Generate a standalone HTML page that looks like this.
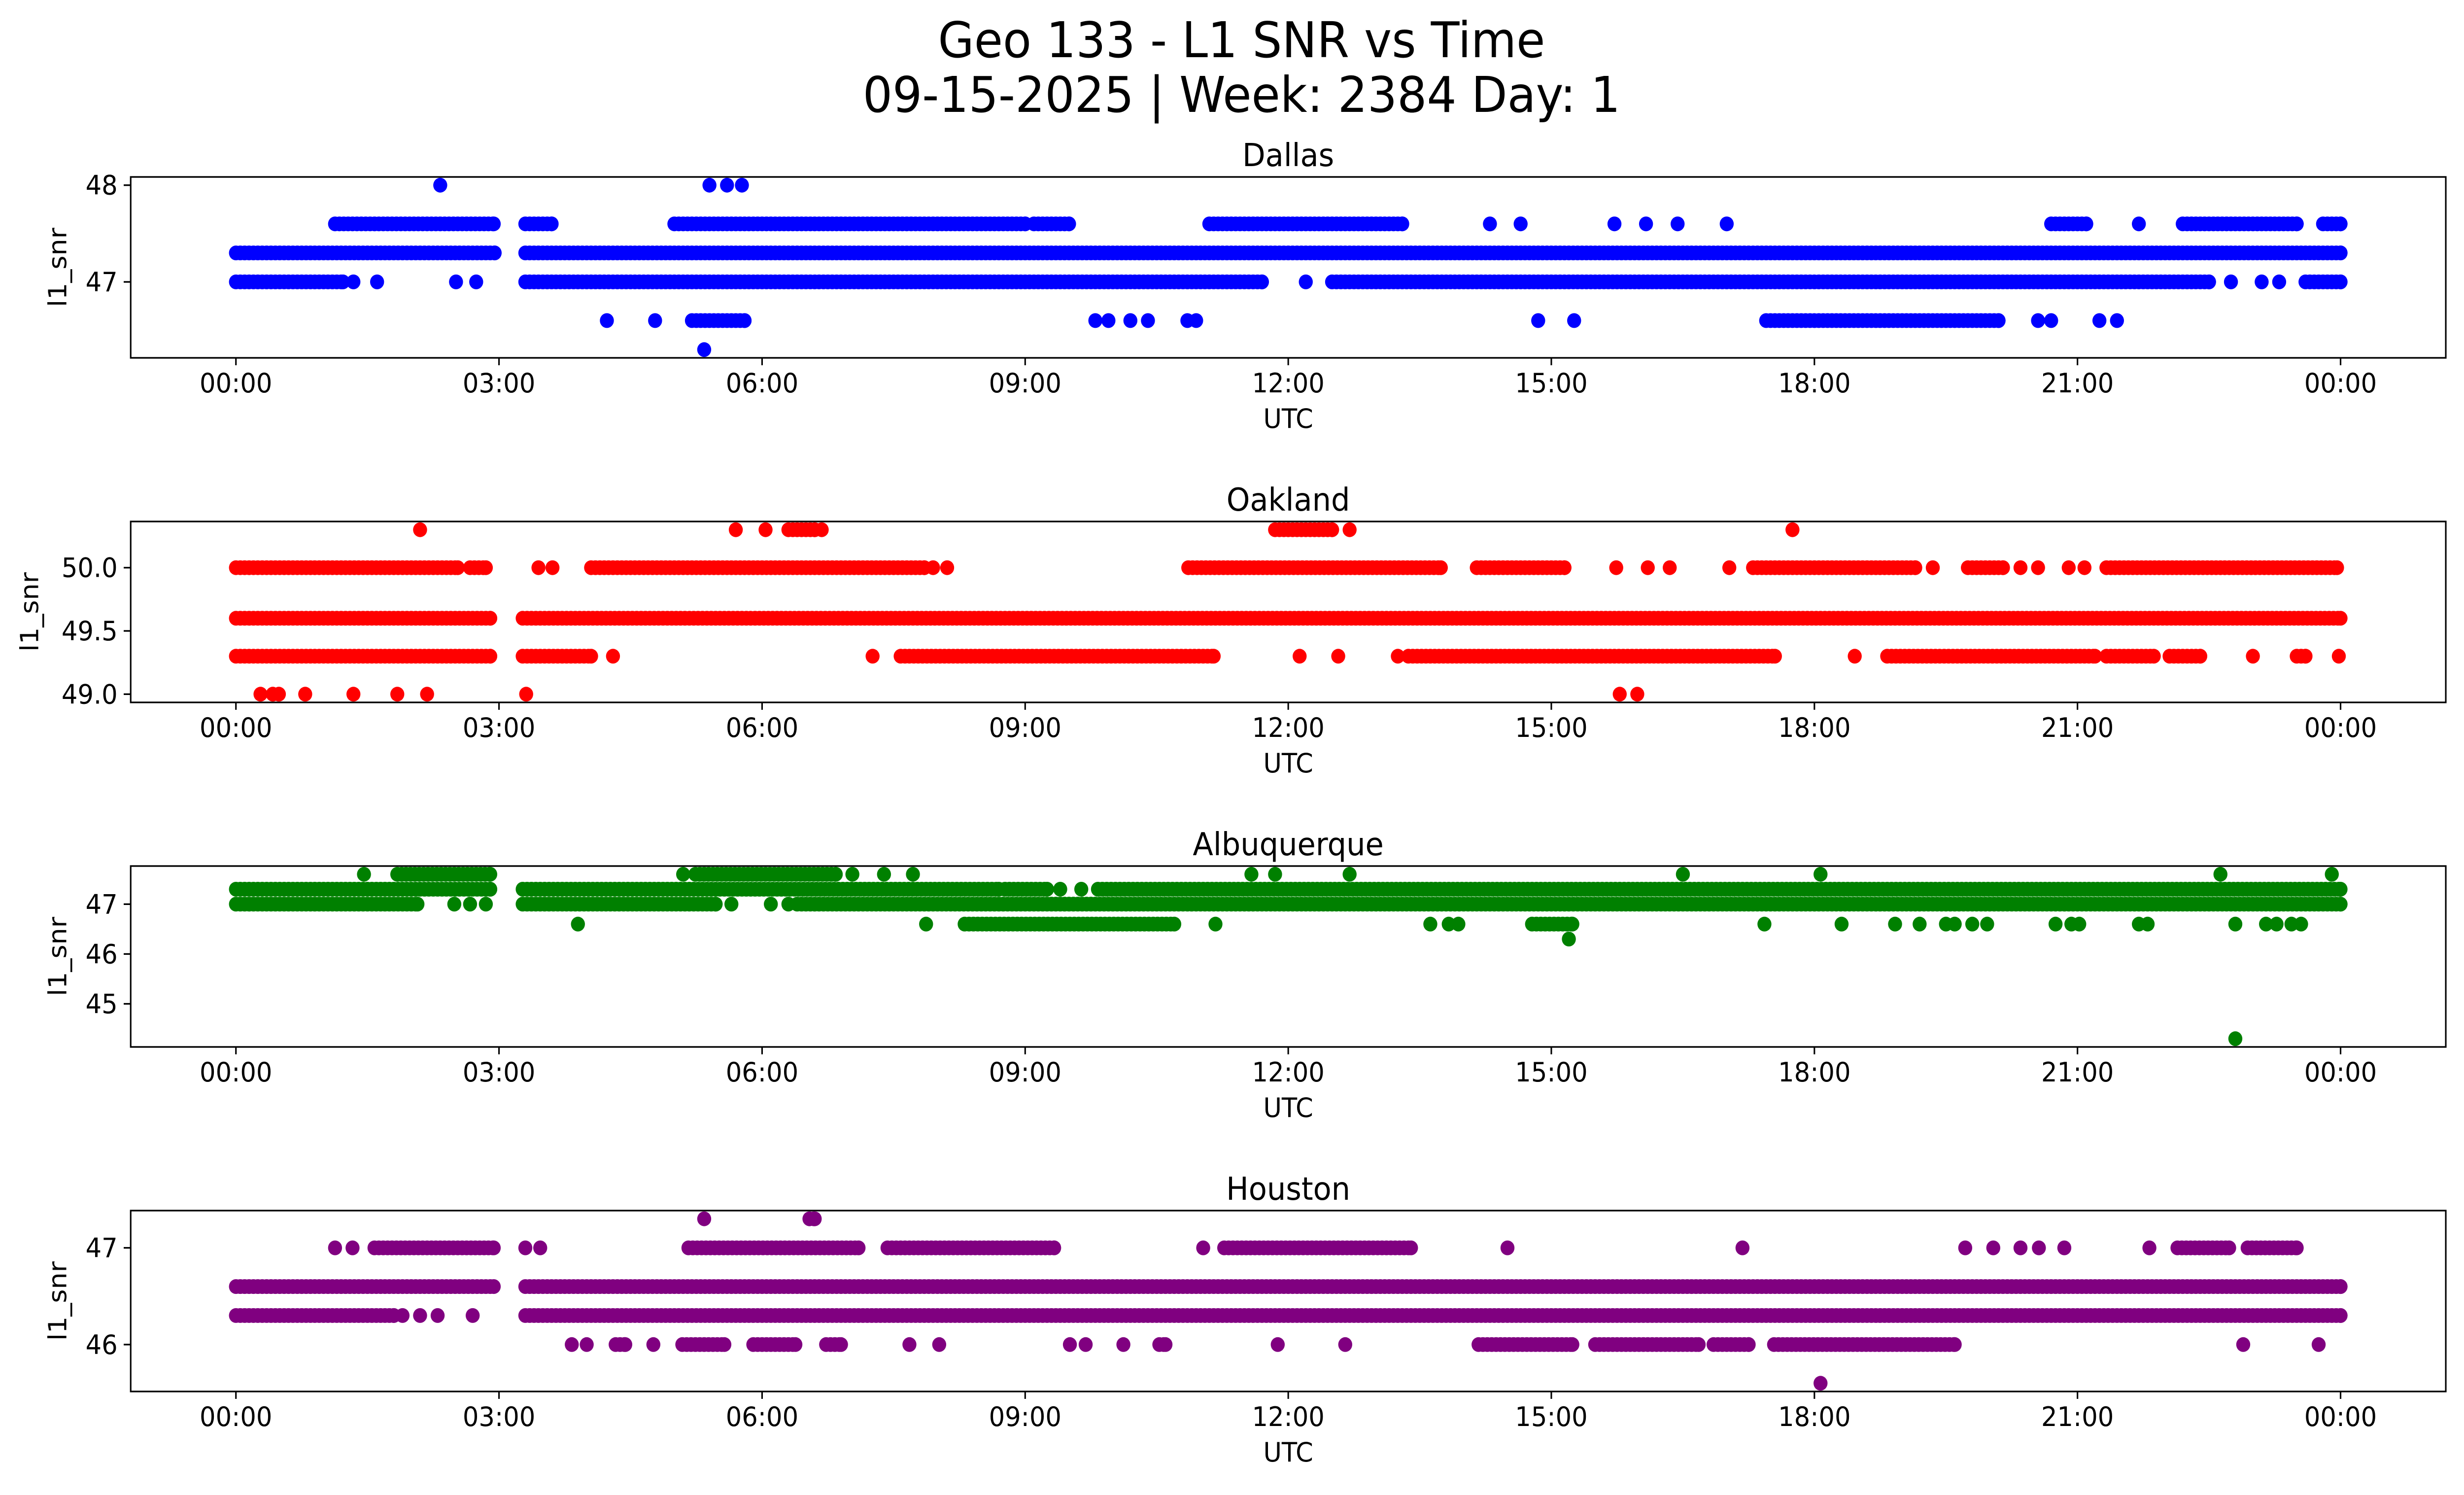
<!DOCTYPE html>
<html><head><meta charset="utf-8"><style>
html,body{margin:0;padding:0;background:#fff;width:100%;height:100%;overflow:hidden;}
svg{display:block;font-family:"DejaVu Sans","Liberation Sans",sans-serif;width:100vw;height:100vh;}
</style></head><body>
<svg id="fig" viewBox="0 0 5279 3033" preserveAspectRatio="none" xmlns="http://www.w3.org/2000/svg">
<rect width="5279" height="3033" fill="#fff"/>
<text x="2660" y="116" font-size="100" text-anchor="middle">Geo 133 - L1 SNR vs Time</text>
<text x="2660" y="227" font-size="100" text-anchor="middle">09-15-2025 | Week: 2384 Day: 1</text>
</svg>
<script>
const xTickHours = [0,3,6,9,12,15,18,21,24];
const xTickLabels = ["00:00","03:00","06:00","09:00","12:00","15:00","18:00","21:00","00:00"];

const dallasRuns = [[47.3,0,2.95],[47.3,3.3,24],[47.0,0,1.22],[47.0,3.3,11.7],[47.0,12.5,22.5],[47.0,23.6,24],
 [47.6,1.13,2.94],[47.6,3.3,3.6],[47.6,5.0,9.0],[47.6,9.1,9.5],[47.6,11.1,13.3],[47.6,20.7,21.1],[47.6,22.2,23.5],[47.6,23.8,24],
 [46.6,5.2,5.8],[46.6,17.45,20.1]];
const dallasPoints = [[47,1.34],[47,1.61],[47,2.51],[47,2.74],[47,12.2],[47,22.75],[47,23.1],[47,23.3],
 [47.6,14.3],[47.6,14.65],[47.6,15.72],[47.6,16.08],[47.6,16.44],[47.6,17.0],[47.6,21.7],
 [48,2.33],[48,5.4],[48,5.6],[48,5.77],
 [46.6,4.23],[46.6,4.78],[46.6,9.8],[46.6,9.95],[46.6,10.2],[46.6,10.4],[46.6,10.85],[46.6,10.95],[46.6,14.85],[46.6,15.26],[46.6,20.55],[46.6,20.7],[46.6,21.25],[46.6,21.45],
 [46.3,5.34]];
const dallasTicks = [47,48];

const oaklandRuns = [[50.0,0,2.53],[50.0,2.67,2.85],[50.0,4.05,7.85],[50.0,10.86,13.74],[50.0,14.15,15.15],[50.0,17.3,19.15],[50.0,19.75,20.15],[50.0,21.33,23.96],
 [49.6,0,2.9],[49.6,3.27,24],
 [49.3,0,2.9],[49.3,3.27,4.05],[49.3,7.58,11.15],[49.3,13.37,17.55],[49.3,18.83,21.2],[49.3,21.33,21.87],[49.3,22.05,22.4],[49.3,23.5,23.6],
 [50.3,6.3,6.6],[50.3,11.85,12.5]];
const oaklandPoints = [[50.0,3.45],[50.0,3.61],[50.0,7.95],[50.0,8.11],[50.0,15.74],[50.0,16.1],[50.0,16.35],[50.0,17.03],[50.0,19.35],[50.0,20.35],[50.0,20.55],[50.0,20.9],[50.0,21.08],
 [49.3,4.3],[49.3,7.26],[49.3,12.13],[49.3,12.57],[49.3,13.25],[49.3,18.46],[49.3,23.0],[49.3,23.98],
 [50.3,2.1],[50.3,5.7],[50.3,6.04],[50.3,6.68],[50.3,12.7],[50.3,17.75],
 [49.0,0.28],[49.0,0.42],[49.0,0.49],[49.0,0.79],[49.0,1.34],[49.0,1.84],[49.0,2.18],[49.0,3.31],[49.0,15.78],[49.0,15.98]];
const oaklandTicks = [49.0,49.5,50.0];

const albuquerqueRuns = [[47.3,0,2.9],[47.3,3.27,8.7],[47.3,8.77,9.25],[47.3,9.83,24],
 [47.0,0,2.07],[47.0,3.27,5.47],[47.0,6.4,24],
 [47.6,1.84,2.9],[47.6,5.24,6.84],
 [46.6,8.31,10.7],[46.6,14.78,15.24]];
const albuquerquePoints = [[47.3,9.4],[47.3,9.64],[47.0,2.49],[47.0,2.67],[47.0,2.85],[47.0,5.65],[47.0,6.1],[47.0,6.3],
 [47.6,1.46],[47.6,5.1],[47.6,7.03],[47.6,7.39],[47.6,7.72],[47.6,11.58],[47.6,11.85],[47.6,12.7],[47.6,16.5],[47.6,18.07],[47.6,22.63],[47.6,23.9],
 [46.6,3.9],[46.6,7.87],[46.6,11.17],[46.6,13.62],[46.6,13.83],[46.6,13.94],[46.6,17.43],[46.6,18.31],[46.6,18.92],[46.6,19.2],[46.6,19.5],[46.6,19.6],[46.6,19.8],[46.6,19.97],[46.6,20.75],[46.6,20.93],[46.6,21.02],[46.6,21.7],[46.6,21.8],[46.6,22.8],[46.6,23.15],[46.6,23.27],[46.6,23.44],[46.6,23.55],
 [46.3,15.2],[44.3,22.8]];
const albuquerqueTicks = [45,46,47];

const houstonRuns = [[46.6,0,2.94],[46.6,3.3,24],[46.3,0,1.8],[46.3,3.3,24],
 [47.0,1.58,2.94],[47.0,5.16,7.1],[47.0,7.43,9.33],[47.0,11.27,13.4],[47.0,22.14,22.73],[47.0,22.94,23.5],
 [47.3,6.54,6.6],
 [46.0,4.33,4.44],[46.0,5.09,5.57],[46.0,5.9,6.38],[46.0,6.73,6.9],[46.0,10.53,10.6],[46.0,14.17,15.24],[46.0,15.5,16.68],[46.0,16.85,17.25],[46.0,17.54,19.6]];
const houstonPoints = [[47.3,5.34],
 [47.0,1.13],[47.0,1.33],[47.0,3.3],[47.0,3.47],[47.0,11.03],[47.0,14.5],[47.0,17.18],[47.0,19.72],[47.0,20.04],[47.0,20.35],[47.0,20.56],[47.0,20.85],[47.0,21.82],
 [46.3,1.9],[46.3,2.1],[46.3,2.3],[46.3,2.7],
 [46.0,3.83],[46.0,4.0],[46.0,4.76],[46.0,7.68],[46.0,8.02],[46.0,9.51],[46.0,9.69],[46.0,10.12],[46.0,11.88],[46.0,12.65],[46.0,22.89],[46.0,23.75],
 [45.6,18.07]];
const houstonTicks = [46,47];

const NS = "http://www.w3.org/2000/svg";
const svg = document.getElementById("fig");
const X0 = 280, X1 = 5240, TOPS = [359,1058,1757,2456], H = 367, R = 15, STEP = 0.05;
const xMin = -1.2, xMax = 25.2;
function xScale(h){ return X0 + (h - xMin) / (xMax - xMin) * (X1 - X0); }
function mk(tag, attrs){ const e = document.createElementNS(NS, tag); for (const k in attrs) e.setAttribute(k, attrs[k]); return e; }

function drawPanel(idx, title, color, runs, points, ticks, key){
  const top = TOPS[idx], bottom = top + H;
  const vals = runs.map(r => r[0]).concat(points.map(p => p[0]));
  const vmin = Math.min(...vals), vmax = Math.max(...vals), pad = (vmax - vmin) * 0.05;
  const yMin = vmin - pad, yMax = vmax + pad;
  const yScale = v => bottom - (v - yMin) / (yMax - yMin) * H;
  const g = mk("g", {});
  
  
  svg.appendChild(g);
  const t = mk("text", {x: (X0 + X1) / 2, y: top - 22, "font-size": 64, "text-anchor": "middle"});
  
  
  t.textContent = title; g.appendChild(t);
  const pts = mk("g", {fill: color});
  
  
  g.appendChild(pts);
  runs.forEach(r => {
    for (let h = r[1]; h <= r[2] + 1e-9; h += STEP) {
      const c = mk("circle", {cx: xScale(h).toFixed(1), cy: yScale(r[0]).toFixed(1), r: R});
      
      
      pts.appendChild(c);
    }
    const c = mk("circle", {cx: xScale(r[2]).toFixed(1), cy: yScale(r[0]).toFixed(1), r: R});
    
    
    pts.appendChild(c);
  });
  points.forEach(p => {
    const c = mk("circle", {cx: xScale(p[1]).toFixed(1), cy: yScale(p[0]).toFixed(1), r: R});
    
    
    pts.appendChild(c);
  });
  const frame = mk("rect", {x: X0, y: top, width: X1 - X0, height: H, fill: "none", stroke: "#000", "stroke-width": 3.3});
  
  
  g.appendChild(frame);
  xTickHours.forEach((h, i) => {
    const x = xScale(h);
    const l = mk("line", {x1: x, y1: bottom, x2: x, y2: bottom + 15, stroke: "#000", "stroke-width": 3.3});
    
    
    g.appendChild(l);
    const tx = mk("text", {x: x, y: bottom + 70, "font-size": 54, "text-anchor": "middle"});
    
    
    tx.textContent = xTickLabels[i]; g.appendChild(tx);
  });
  ticks.forEach(v => {
    const y = yScale(v);
    const l = mk("line", {x1: X0 - 15, y1: y, x2: X0, y2: y, stroke: "#000", "stroke-width": 3.3});
    
    
    g.appendChild(l);
    const tx = mk("text", {x: X0 - 28, y: y + 19, "font-size": 54, "text-anchor": "end"});
    
    
    tx.textContent = (ticks.some(t => t % 1 !== 0)) ? v.toFixed(1) : String(v); g.appendChild(tx);
  });
  const xl = mk("text", {x: (X0 + X1) / 2, y: bottom + 142, "font-size": 54, "text-anchor": "middle"});
  
  
  xl.textContent = "UTC"; g.appendChild(xl);
  const yc = top + H / 2, yx = (idx === 1) ? 82 : 142;
  const yl = mk("text", {x: yx, y: yc, "font-size": 54, "text-anchor": "middle", transform: "rotate(-90 " + yx + " " + yc + ")"});
  
  
  yl.textContent = "l1_snr"; g.appendChild(yl);
}
drawPanel(0, "Dallas", "#0000ff", dallasRuns, dallasPoints, dallasTicks, "dallas");
drawPanel(1, "Oakland", "#ff0000", oaklandRuns, oaklandPoints, oaklandTicks, "oakland");
drawPanel(2, "Albuquerque", "#008000", albuquerqueRuns, albuquerquePoints, albuquerqueTicks, "albuquerque");
drawPanel(3, "Houston", "#800080", houstonRuns, houstonPoints, houstonTicks, "houston");
</script>
</body></html>
